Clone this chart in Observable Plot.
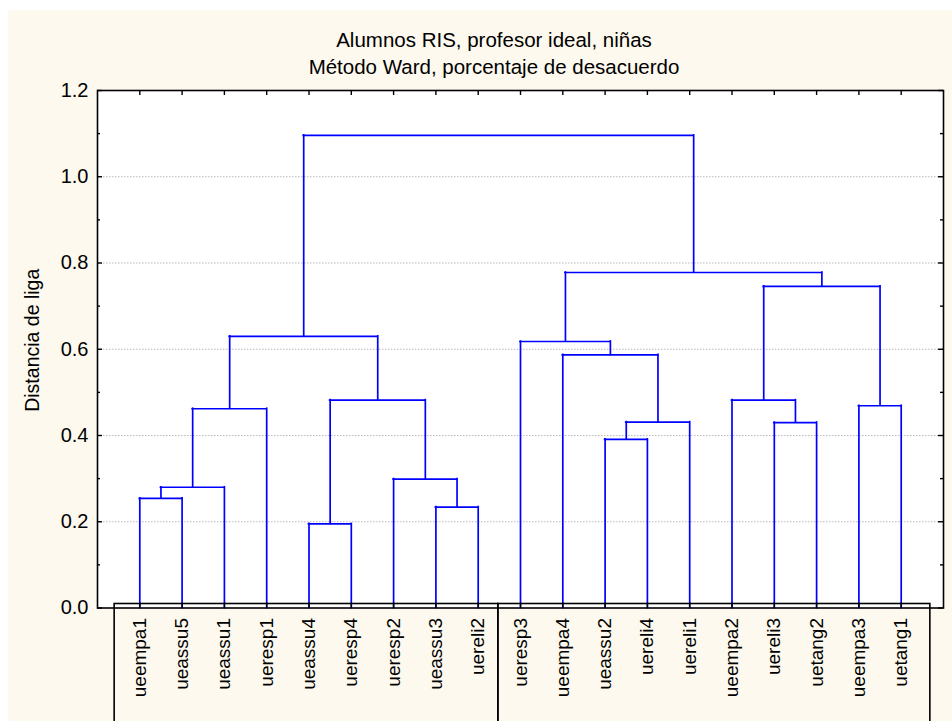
<!DOCTYPE html>
<html>
<head>
<meta charset="utf-8">
<script src="https://cdn.jsdelivr.net/npm/d3@7"></script>
<script src="https://cdn.jsdelivr.net/npm/@observablehq/plot@0.6"></script>
<style>
  html, body { margin: 0; padding: 0; background: #ffffff; width: 952px; height: 721px; overflow: hidden; }
  #bg { position: absolute; left: 8px; top: 10px; width: 944px; height: 711px; background: #fdf9ee; }
  .t { position: absolute; left: 0; width: 988px; text-align: center; font-family: "Liberation Sans", Arial, sans-serif; font-size: 20.5px; line-height: 24px; color: #000; }
  #chart { position: absolute; left: 0; top: 80px; }
</style>
</head>
<body>
<div id="bg"></div>
<div class="t" style="top:28px">Alumnos RIS, profesor ideal, niñas</div>
<div class="t" style="top:55px">Método Ward, porcentaje de desacuerdo</div>
<div id="chart"></div>
<script>
// Leaves in dendrogram order
const leaves = ["ueempa1","ueassu5","ueassu1","ueresp1","ueassu4","ueresp4","ueresp2","ueassu3","uereli2",
                "ueresp3","ueempa4","ueassu2","uereli4","uereli1","ueempa2","uereli3","uetang2","ueempa3","uetang1"];
// Merges: left child, right child, linkage distance ("m#" = earlier merge)
const mergeLeft   = ["ueempa1","m0","m1","ueassu4","ueassu3","ueresp2","m3","m2","ueassu2","m8","ueempa4","ueresp3","uereli3","ueempa2","ueempa3","m13","m11","m7"];
const mergeRight  = ["ueassu5","ueassu1","ueresp1","ueresp4","uereli2","m4","m5","m6","uereli4","uereli1","m9","m10","uetang2","m12","uetang1","m14","m15","m16"];
const mergeHeight = [0.254,0.280,0.462,0.195,0.234,0.299,0.482,0.630,0.391,0.431,0.587,0.618,0.430,0.482,0.469,0.746,0.778,1.096];
// Axis ticks
const yTicks = [0, 0.2, 0.4, 0.6, 0.8, 1.0, 1.2];
const yMinor = [0.1, 0.3, 0.5, 0.7, 0.9, 1.1];
const gridVals = [0.2, 0.4, 0.6, 0.8, 1.0];
// Label boxes under the axis (first and last leaf of each box)
const boxFirst = ["ueempa1", "ueresp3"];
const boxLast  = ["uereli2", "uetang1"];
const yLabel = "Distancia de liga";

const pos = new Map(leaves.map((d, i) => [d, {x: i + 1, h: 0}]));
const verticals = [], horizontals = [];
mergeHeight.forEach((h, i) => {
  const a = pos.get(mergeLeft[i]), b = pos.get(mergeRight[i]);
  verticals.push({x: a.x, y1: a.h, y2: h}, {x: b.x, y1: b.h, y2: h});
  horizontals.push({y: h, x1: a.x, x2: b.x});
  pos.set("m" + i, {x: (a.x + b.x) / 2, h});
});
const leafData = leaves.map((d, i) => ({name: d, x: i + 1}));
const boxes = boxFirst.map((f, i) => ({x1: pos.get(f).x - 0.5, x2: pos.get(boxLast[i]).x + 0.5}));

const blue = "#0000ff";
const chart = Plot.plot({
  width: 952,
  height: 641,
  marginTop: 10,
  marginLeft: 97,
  marginRight: 9,
  marginBottom: 113.5,
  x: {domain: [0, 20], axis: null},
  y: {domain: [0, 1.2], axis: null},
  style: {background: "transparent", fontFamily: "'Liberation Sans', Arial, sans-serif", fontSize: "19px", color: "#000"},
  marks: [
    Plot.frame({fill: "white", stroke: "none"}),
    Plot.ruleY(gridVals, {stroke: "#b8b8b8", strokeWidth: 1, strokeDasharray: "1.5,1.5"}),
    Plot.ruleX(verticals, {x: "x", y1: "y1", y2: "y2", stroke: blue, strokeWidth: 1.7, strokeLinecap: "square"}),
    Plot.ruleY(horizontals, {y: "y", x1: "x1", x2: "x2", stroke: blue, strokeWidth: 1.7, strokeLinecap: "square"}),
    // label boxes
    Plot.rect([boxes[0]], {x1: "x1", x2: "x2", y1: 0, y2: -0.4, insetTop: -4, insetLeft: -4, insetRight: 1, fill: "none", stroke: "black", strokeWidth: 1.6}),
    Plot.rect([boxes[1]], {x1: "x1", x2: "x2", y1: 0, y2: -0.4, insetTop: -4, insetLeft: -1, insetRight: -8, fill: "none", stroke: "black", strokeWidth: 1.6}),
    // ticks: left & right (major/minor), top & bottom at leaves
    Plot.ruleY(yTicks, {x1: 0, x2: 0, insetRight: -5, stroke: "black", strokeWidth: 1.4}),
    Plot.ruleY(yMinor, {x1: 0, x2: 0, insetRight: -3, stroke: "black", strokeWidth: 1.4}),
    Plot.ruleY(yTicks, {x1: 20, x2: 20, insetLeft: -5, stroke: "black", strokeWidth: 1.4}),
    Plot.ruleY(yMinor, {x1: 20, x2: 20, insetLeft: -3, stroke: "black", strokeWidth: 1.4}),
    Plot.ruleX(leafData, {x: "x", y1: 1.2, y2: 1.2, insetBottom: -5, stroke: "black", strokeWidth: 1.4}),
    Plot.ruleX(leafData, {x: "x", y1: 0, y2: 0, insetTop: -5, stroke: "black", strokeWidth: 1.4}),
    Plot.frame({stroke: "black", strokeWidth: 1.6}),
    // y tick labels
    Plot.text(yTicks, {x: 0, y: d => d, text: d => d.toFixed(1), textAnchor: "end", dx: -9, fontSize: 20}),
    // y axis label
    Plot.text([yLabel], {frameAnchor: "left", textAnchor: "middle", dx: -65, dy: -9, rotate: -90, fontSize: 19.5}),
    // leaf labels
    Plot.text(leafData, {x: "x", y: 0, text: "name", rotate: -90, textAnchor: "end", dy: 10, fontSize: 19})
  ]
});
document.getElementById("chart").appendChild(chart);
</script>
</body>
</html>
